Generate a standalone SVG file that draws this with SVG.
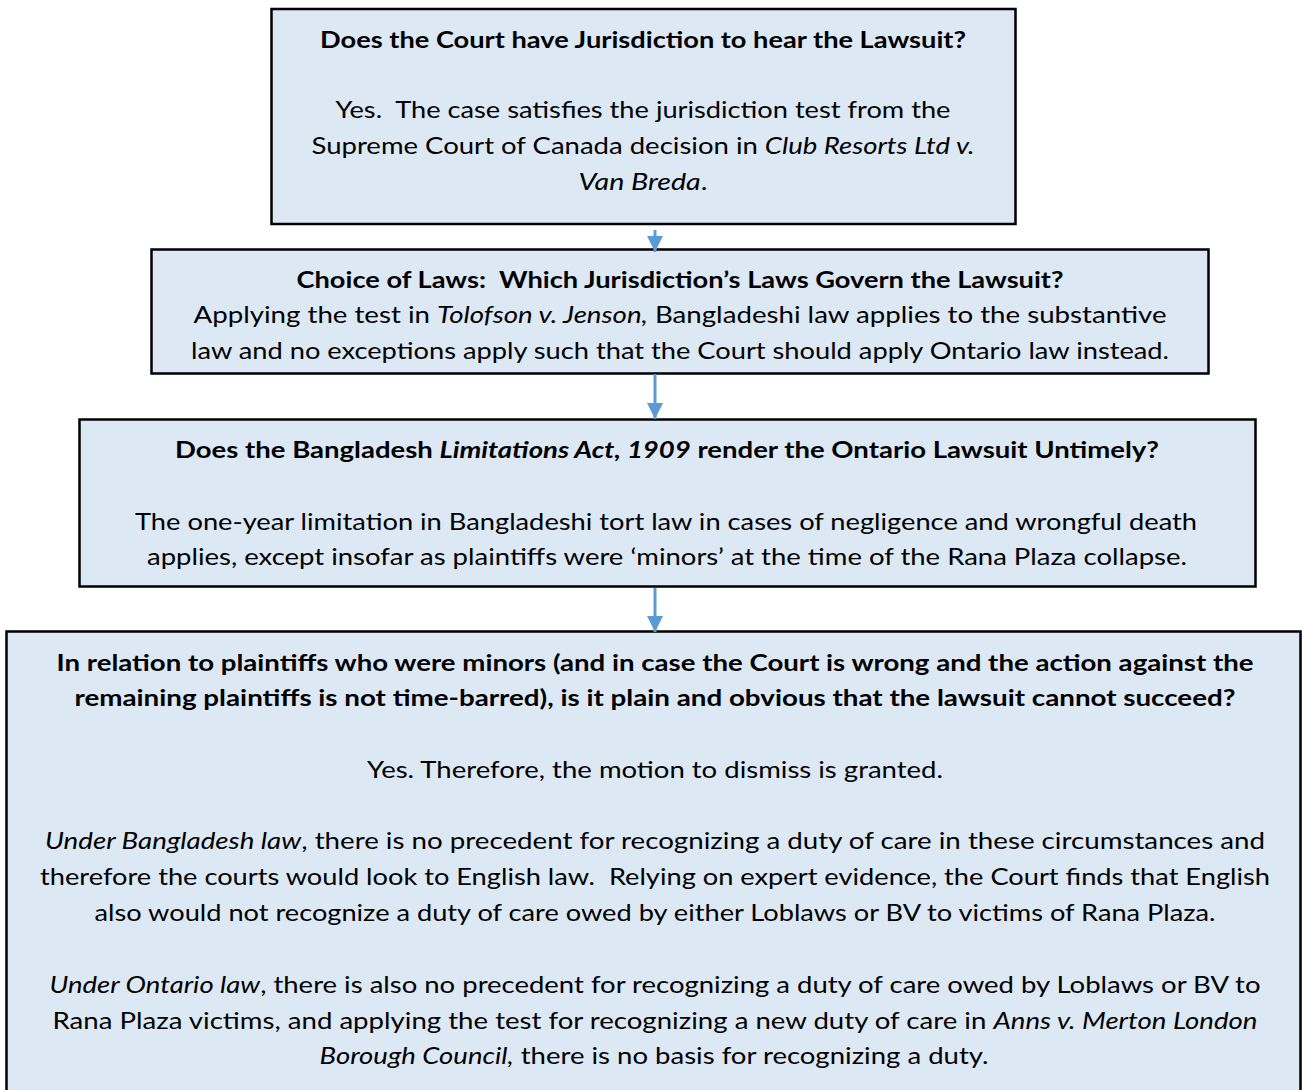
<svg xmlns="http://www.w3.org/2000/svg" width="1302" height="1090" viewBox="0 0 1302 1090">
<style>
.box{fill:#dde8f5;stroke:#000;stroke-width:2.5}
text{font-family:Lato,"Open Sans","Liberation Sans",sans-serif;font-size:23.5px;fill:#000;text-anchor:middle}
.b{font-weight:bold}
.i{font-style:italic}
.conn{stroke:#5b9bd5;stroke-width:3;fill:none}
</style>
<defs>
<marker id="ah" markerUnits="userSpaceOnUse" markerWidth="18" markerHeight="16" refX="16" refY="8" orient="auto">
<path d="M0,0 L16,8 L0,16 Z" fill="#5b9bd5"/>
</marker>
</defs>
<rect width="1302" height="1090" fill="#fff"/>
<g id="node1">
<rect class="box" x="271.5" y="9" width="744" height="215"/>
<text class="b" x="643" y="48" textLength="646" lengthAdjust="spacingAndGlyphs">Does the Court have Jurisdiction to hear the Lawsuit?</text>
<text x="643" y="118" textLength="615" lengthAdjust="spacingAndGlyphs" xml:space="preserve">Yes.  The case satisfies the jurisdiction test from the</text>
<text x="643" y="154" textLength="663" lengthAdjust="spacingAndGlyphs">Supreme Court of Canada decision in <tspan class="i">Club Resorts Ltd v.</tspan></text>
<text x="643" y="190" textLength="129" lengthAdjust="spacingAndGlyphs"><tspan class="i">Van Breda</tspan>.</text>
</g>
<g id="node2">
<rect class="box" x="151.5" y="249.5" width="1057" height="124"/>
<text class="b" x="680" y="288" textLength="767" lengthAdjust="spacingAndGlyphs" xml:space="preserve">Choice of Laws:  Which Jurisdiction’s Laws Govern the Lawsuit?</text>
<text x="680" y="323" textLength="973" lengthAdjust="spacingAndGlyphs">Applying the test in <tspan class="i">Tolofson v. Jenson,</tspan> Bangladeshi law applies to the substantive</text>
<text x="680" y="359" textLength="978" lengthAdjust="spacingAndGlyphs">law and no exceptions apply such that the Court should apply Ontario law instead.</text>
</g>
<g id="node3">
<rect class="box" x="79.5" y="419.5" width="1176" height="167"/>
<text class="b" x="667" y="458" textLength="984" lengthAdjust="spacingAndGlyphs">Does the Bangladesh <tspan class="i">Limitations Act, 1909</tspan> render the Ontario Lawsuit Untimely?</text>
<text x="666" y="530" textLength="1062" lengthAdjust="spacingAndGlyphs">The one-year limitation in Bangladeshi tort law in cases of negligence and wrongful death</text>
<text x="667" y="565" textLength="1040" lengthAdjust="spacingAndGlyphs">applies, except insofar as plaintiffs were ‘minors’ at the time of the Rana Plaza collapse.</text>
</g>
<g id="node4">
<rect class="box" x="6.5" y="631.5" width="1294" height="480"/>
<text class="b" x="655" y="671" textLength="1197" lengthAdjust="spacingAndGlyphs">In relation to plaintiffs who were minors (and in case the Court is wrong and the action against the</text>
<text class="b" x="655" y="706" textLength="1161" lengthAdjust="spacingAndGlyphs">remaining plaintiffs is not time-barred), is it plain and obvious that the lawsuit cannot succeed?</text>
<text x="655" y="778" textLength="576" lengthAdjust="spacingAndGlyphs">Yes. Therefore, the motion to dismiss is granted.</text>
<text x="655" y="849" textLength="1220" lengthAdjust="spacingAndGlyphs"><tspan class="i">Under Bangladesh law</tspan>, there is no precedent for recognizing a duty of care in these circumstances and</text>
<text x="655" y="885" textLength="1230" lengthAdjust="spacingAndGlyphs" xml:space="preserve">therefore the courts would look to English law.  Relying on expert evidence, the Court finds that English</text>
<text x="655" y="921" textLength="1121" lengthAdjust="spacingAndGlyphs">also would not recognize a duty of care owed by either Loblaws or BV to victims of Rana Plaza.</text>
<text x="655" y="993" textLength="1211" lengthAdjust="spacingAndGlyphs"><tspan class="i">Under Ontario law</tspan>, there is also no precedent for recognizing a duty of care owed by Loblaws or BV to</text>
<text x="655" y="1029" textLength="1205" lengthAdjust="spacingAndGlyphs">Rana Plaza victims, and applying the test for recognizing a new duty of care in <tspan class="i">Anns v. Merton London</tspan></text>
<text x="654" y="1064" textLength="669" lengthAdjust="spacingAndGlyphs"><tspan class="i">Borough Council,</tspan> there is no basis for recognizing a duty.</text>
</g>
<g id="connectors">
<line class="conn" x1="655" y1="230" x2="655" y2="252" marker-end="url(#ah)"/>
<line class="conn" x1="655" y1="374" x2="655" y2="419" marker-end="url(#ah)"/>
<line class="conn" x1="655" y1="588" x2="655" y2="632" marker-end="url(#ah)"/>
</g>
</svg>
